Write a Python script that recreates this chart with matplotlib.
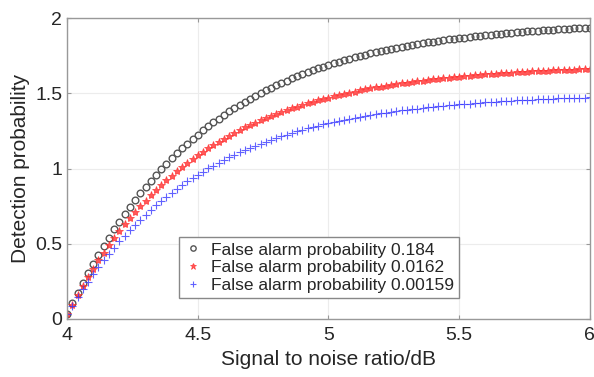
import numpy as np
import matplotlib
matplotlib.use("Agg")
import matplotlib.pyplot as plt

plt.rcParams["font.family"] = ["Liberation Sans", "DejaVu Sans"]

# signal to noise ratio axis (dB), 101 samples between 4 and 6
snr = np.linspace(4, 6, 101)

pd_0184 = [
    0.030, 0.103, 0.173, 0.240, 0.305, 0.367, 0.428, 0.485, 0.541, 0.595,
    0.646, 0.696, 0.744, 0.790, 0.835, 0.877, 0.918, 0.958, 0.996, 1.033,
    1.068, 1.102, 1.135, 1.166, 1.197, 1.226, 1.254, 1.281, 1.307, 1.332,
    1.356, 1.380, 1.402, 1.424, 1.444, 1.464, 1.484, 1.502, 1.520, 1.537,
    1.554, 1.569, 1.585, 1.599, 1.614, 1.627, 1.640, 1.653, 1.665, 1.677,
    1.688, 1.699, 1.710, 1.720, 1.729, 1.739, 1.748, 1.756, 1.765, 1.773,
    1.781, 1.788, 1.795, 1.802, 1.809, 1.815, 1.821, 1.827, 1.833, 1.838,
    1.844, 1.849, 1.854, 1.858, 1.863, 1.867, 1.871, 1.875, 1.879, 1.883,
    1.887, 1.890, 1.894, 1.897, 1.900, 1.903, 1.906, 1.909, 1.911, 1.914,
    1.916, 1.919, 1.921, 1.923, 1.925, 1.927, 1.929, 1.931, 1.933, 1.935,
    1.936,
]

pd_0162 = [
    0.030, 0.096, 0.159, 0.220, 0.279, 0.335, 0.389, 0.441, 0.490, 0.538,
    0.584, 0.628, 0.670, 0.711, 0.750, 0.787, 0.823, 0.858, 0.891, 0.922,
    0.953, 0.982, 1.010, 1.038, 1.063, 1.088, 1.112, 1.135, 1.157, 1.179,
    1.199, 1.218, 1.237, 1.255, 1.273, 1.289, 1.305, 1.320, 1.335, 1.349,
    1.363, 1.376, 1.388, 1.400, 1.412, 1.423, 1.434, 1.444, 1.454, 1.463,
    1.472, 1.481, 1.489, 1.497, 1.505, 1.512, 1.519, 1.526, 1.532, 1.539,
    1.545, 1.551, 1.556, 1.561, 1.567, 1.571, 1.576, 1.581, 1.585, 1.589,
    1.593, 1.597, 1.601, 1.604, 1.608, 1.611, 1.614, 1.617, 1.620, 1.623,
    1.626, 1.628, 1.631, 1.633, 1.635, 1.637, 1.639, 1.641, 1.643, 1.645,
    1.647, 1.649, 1.650, 1.652, 1.653, 1.655, 1.656, 1.658, 1.659, 1.660,
    1.661,
]

pd_00159 = [
    0.030, 0.088, 0.143, 0.196, 0.247, 0.296, 0.344, 0.389, 0.433, 0.474,
    0.515, 0.553, 0.590, 0.626, 0.660, 0.693, 0.725, 0.755, 0.784, 0.813,
    0.839, 0.865, 0.890, 0.914, 0.937, 0.959, 0.980, 1.001, 1.020, 1.039,
    1.057, 1.075, 1.091, 1.107, 1.123, 1.138, 1.152, 1.165, 1.178, 1.191,
    1.203, 1.215, 1.226, 1.237, 1.247, 1.257, 1.267, 1.276, 1.284, 1.293,
    1.301, 1.309, 1.316, 1.324, 1.330, 1.337, 1.344, 1.350, 1.356, 1.361,
    1.367, 1.372, 1.377, 1.382, 1.386, 1.391, 1.395, 1.399, 1.403, 1.407,
    1.411, 1.414, 1.417, 1.421, 1.424, 1.427, 1.430, 1.432, 1.435, 1.438,
    1.440, 1.442, 1.445, 1.447, 1.449, 1.451, 1.453, 1.455, 1.456, 1.458,
    1.460, 1.461, 1.463, 1.464, 1.466, 1.467, 1.468, 1.470, 1.471, 1.472,
    1.473,
]

labels = [
    "False alarm probability 0.184",
    "False alarm probability 0.0162",
    "False alarm probability 0.00159",
]

x_ticks = [4, 4.5, 5, 5.5, 6]
x_tick_labels = ["4", "4.5", "5", "5.5", "6"]
y_ticks = [0, 0.5, 1, 1.5, 2]
y_tick_labels = ["0", "0.5", "1", "1.5", "2"]

fig = plt.figure(figsize=(5.94, 3.77), dpi=100)
ax = fig.add_axes([0.113, 0.154, 0.880, 0.798])

ax.plot(snr, pd_0184, linestyle="none", marker="o", markersize=4.8,
        markerfacecolor="none", markeredgecolor="#555555", markeredgewidth=1.0,
        label=labels[0])
ax.plot(snr, pd_0162, linestyle="none", marker="*", markersize=6,
        color="#ff3030", markeredgewidth=0.6, alpha=0.8, label=labels[1])
ax.plot(snr, pd_00159, linestyle="none", marker="+", markersize=6,
        color="#3a3aff", markeredgewidth=0.8, alpha=0.8, label=labels[2])

ax.set_xlim(4, 6)
ax.set_ylim(0, 2)
ax.set_xticks(x_ticks)
ax.set_xticklabels(x_tick_labels)
ax.set_yticks(y_ticks)
ax.set_yticklabels(y_tick_labels)
ax.tick_params(direction="in", length=3, color="#999999", labelsize=14,
               labelcolor="#262626", top=True, right=True)
ax.tick_params(axis="x", pad=6)
ax.grid(True, color="#ececec", linewidth=0.8)
ax.set_axisbelow(True)
for spine in ax.spines.values():
    spine.set_color("#999999")
    spine.set_linewidth(1.0)

ax.set_xlabel("Signal to noise ratio/dB", fontsize=15, color="#262626", labelpad=4)
ax.set_ylabel("Detection probability", fontsize=15, color="#262626", labelpad=4)

leg = ax.legend(loc="lower left", bbox_to_anchor=(0.198, 0.04), fontsize=12.5,
                handlelength=1.0, handletextpad=0.5, borderpad=0.3,
                labelspacing=0.15, fancybox=False, framealpha=1,
                edgecolor="#888888", markerscale=0.8)
for t in leg.get_texts():
    t.set_color("#262626")

fig.savefig("out.png", dpi=100)
